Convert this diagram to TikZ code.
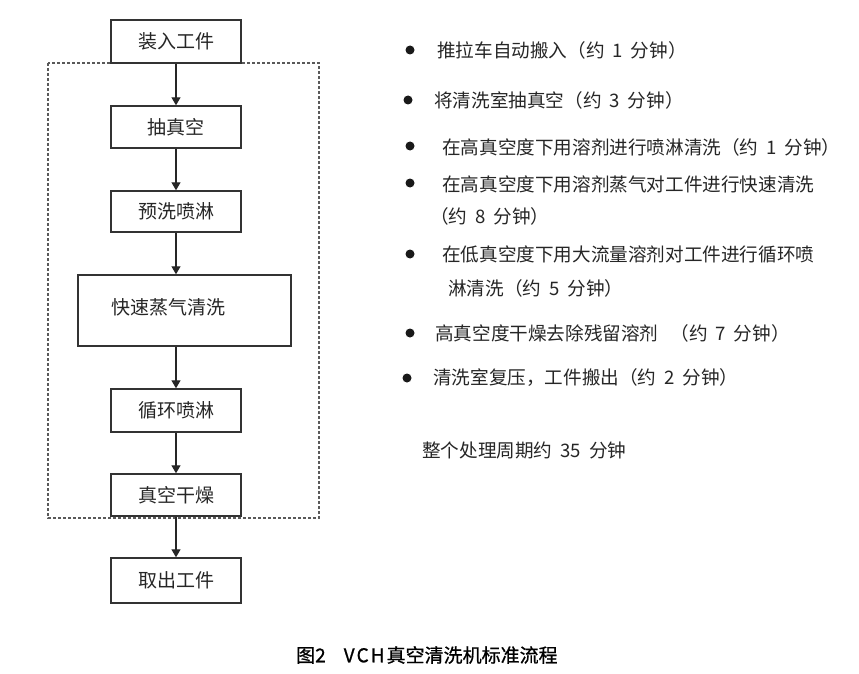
\documentclass[tikz,border=0pt]{standalone}
\usepackage{fontspec}
\setmainfont{Noto Sans CJK SC}
\newfontfamily\capfont[FakeBold=0.8]{Noto Sans CJK SC}
\usetikzlibrary{arrows.meta}
\newcommand{\gp}{\hspace{8pt}}
\begin{document}
\begin{tikzpicture}[x=1pt,y=-1pt,
  stepbox/.style={draw=black!80, line width=1.4pt, minimum width=130pt, inner sep=0pt,
    text=black!85, font=\fontsize{19}{22}\selectfont},
  arr/.style={draw=black!85, line width=1.2pt, -{Triangle[length=8pt,width=9pt]}},
  txt/.style={anchor=west, inner sep=0pt, text=black!85, font=\fontsize{18.6}{22}\selectfont},
  dot/.style={circle, fill=black!90, inner sep=0pt, minimum size=9pt},
  frame/.style={draw=black!65, line width=1.2pt, dash pattern=on 3pt off 2pt}
]
\useasboundingbox (0,0) rectangle (859,674);
\fill[white] (0,0) rectangle (859,674);

% dashed frame
\draw[frame] (48,63) rectangle (319,518);

% boxes
\node[stepbox, minimum height=43pt] (load) at (176,41.5) {装入工件};
\node[stepbox, minimum height=42pt] (vac) at (176,127) {抽真空};
\node[stepbox, minimum height=41pt] (pre) at (176,211.5) {预洗喷淋};
\node[stepbox, minimum width=213pt, minimum height=71pt] (fast) at (184.5,310.5) {};
\node[inner sep=0pt, text=black!85, font=\fontsize{19}{22}\selectfont] (fastlbl) at (168.5,307) {快速蒸气清洗};
\node[stepbox, minimum height=43pt] (loop) at (176,410.5) {循环喷淋};
\node[stepbox, minimum height=42pt] (dry) at (176,495) {真空干燥};
\node[stepbox, minimum height=45pt] (out) at (176,580.5) {取出工件};

% arrows
\draw[arr] (load) -- (vac);
\draw[arr] (vac) -- (pre);
\draw[arr] (pre) -- (pre |- fast.north);
\draw[arr] (loop |- fast.south) -- (loop);
\draw[arr] (loop) -- (dry);
\draw[arr] (dry) -- (out);

% right-hand list
\node[dot] (b1) at (410,50) {};
\node[txt] (t1) at (437,50) {推拉车自动搬入（约{\gp}1{\gp}分钟）};
\node[dot] (b2) at (408,100) {};
\node[txt] (t2) at (434,100) {将清洗室抽真空（约{\gp}3{\gp}分钟）};
\node[dot] (b3) at (410,146) {};
\node[txt] (t3) at (442,147) {在高真空度下用溶剂进行喷淋清洗（约{\gp}1{\gp}分钟）};
\node[dot] (b4) at (410,183) {};
\node[txt] (t4) at (442,184) {在高真空度下用溶剂蒸气对工件进行快速清洗};
\node[txt] (t4b) at (430,216) {（约{\gp}8{\gp}分钟）};
\node[dot] (b5) at (410,254) {};
\node[txt] (t5) at (442,254) {在低真空度下用大流量溶剂对工件进行循环喷};
\node[txt] (t5b) at (448,288) {淋清洗（约{\gp}5{\gp}分钟）};
\node[dot] (b6) at (410,333) {};
\node[txt] (t6) at (435,333) {高真空度干燥去除残留溶剂\hspace{12pt}（约{\gp}7{\gp}分钟）};
\node[dot] (b7) at (407,378) {};
\node[txt] (t7) at (433,378) {清洗室复压，工件搬出（约{\gp}2{\gp}分钟）};
\node[txt] (t8) at (422,450) {整个处理周期约{\gp}35{\gp}分钟};

% caption
\node[anchor=west, inner sep=0pt, text=black, font=\capfont\fontsize{19}{22}\selectfont] (cap) at (296,655) {图2\hspace{18pt}V\hspace{2pt}C\hspace{2pt}H\hspace{2pt}真空清洗机标准流程};
\end{tikzpicture}
\end{document}
